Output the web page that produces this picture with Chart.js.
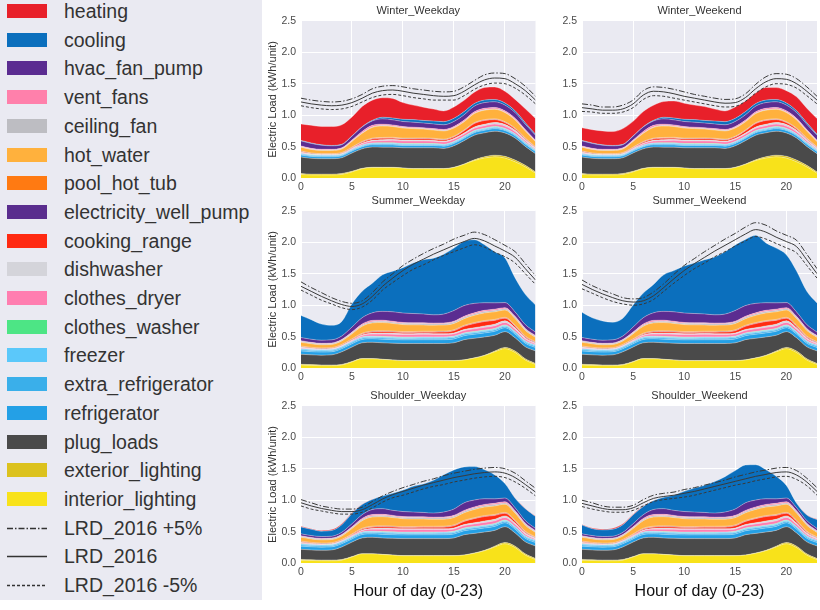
<!DOCTYPE html>
<html><head><meta charset="utf-8">
<script src="https://cdn.jsdelivr.net/npm/chart.js@4.4.1/dist/chart.umd.min.js"></script>
<style>
html,body{margin:0;padding:0;background:#fff;width:820px;height:610px;overflow:hidden;}
#legend{position:absolute;left:0;top:0;width:262px;height:600px;background:#EAEAF2;}
.item{position:absolute;left:0;height:20px;width:262px;}
.sw{position:absolute;left:7px;top:3px;width:40px;height:14px;}
.lsw{position:absolute;left:7px;top:0;width:40px;height:20px;}
.lbl{position:absolute;left:64px;top:0;font:19.5px "Liberation Sans",Arial,sans-serif;line-height:20px;color:#333;white-space:nowrap;}
canvas{position:absolute;}
</style></head><body>
<div id="legend"></div>
<canvas id="c1" width="278" height="195" style="left:262px;top:0px"></canvas>
<canvas id="c2" width="265" height="195" style="left:555px;top:0px"></canvas>
<canvas id="c3" width="278" height="195" style="left:262px;top:190px"></canvas>
<canvas id="c4" width="265" height="195" style="left:555px;top:190px"></canvas>
<canvas id="c5" width="278" height="220" style="left:262px;top:385px"></canvas>
<canvas id="c6" width="265" height="220" style="left:555px;top:385px"></canvas>
<script>
// ---------------- DATA ----------------
const hours = [0,1,2,3,4,5,6,7,8,9,10,11,12,13,14,15,16,17,18,19,20,21,22,23];

// Winter end uses (shared by weekday / weekend)
const winter_interior_lighting = [0.06,0.05,0.05,0.05,0.06,0.10, 0.15,0.17,0.17,0.17,0.16,0.15, 0.15,0.15,0.15,0.17,0.22,0.28, 0.32,0.34,0.32,0.26,0.18,0.08];
const winter_exterior_lighting = [0.015,0.015,0.015,0.015,0.015,0.010, 0.006,0.004,0.003,0.003,0.003,0.003, 0.003,0.003,0.003,0.004,0.006,0.012, 0.020,0.025,0.028,0.028,0.025,0.020];
const winter_plug_loads = [0.26,0.25,0.245,0.245,0.25,0.29, 0.31,0.32,0.32,0.32,0.32,0.33, 0.33,0.33,0.32,0.34,0.37,0.39, 0.38,0.38,0.37,0.35,0.30,0.29];
const winter_refrigerator = [0.032,0.031,0.030,0.030,0.030,0.031, 0.033,0.035,0.035,0.035,0.035,0.036, 0.036,0.036,0.036,0.037,0.038,0.040, 0.040,0.040,0.039,0.037,0.035,0.033];
const winter_extra_refrigerator = [0.012,0.012,0.011,0.011,0.011,0.012, 0.012,0.013,0.013,0.013,0.013,0.013, 0.013,0.013,0.013,0.014,0.014,0.014, 0.014,0.014,0.014,0.013,0.013,0.012];
const winter_freezer = [0.012,0.012,0.012,0.012,0.012,0.012, 0.012,0.012,0.012,0.012,0.012,0.012, 0.012,0.012,0.012,0.012,0.012,0.013, 0.013,0.013,0.013,0.013,0.012,0.012];
const winter_clothes_washer = [0.002,0.001,0.001,0.001,0.001,0.002, 0.004,0.006,0.008,0.008,0.008,0.007, 0.007,0.006,0.006,0.006,0.006,0.007, 0.007,0.007,0.006,0.005,0.004,0.003];
const winter_clothes_dryer = [0.010,0.006,0.005,0.005,0.006,0.010, 0.020,0.030,0.035,0.040,0.040,0.040, 0.040,0.038,0.036,0.035,0.036,0.038, 0.040,0.040,0.038,0.033,0.025,0.015];
const winter_dishwasher = [0.010,0.006,0.004,0.004,0.004,0.005, 0.008,0.012,0.015,0.015,0.013,0.012, 0.012,0.012,0.012,0.013,0.015,0.018, 0.022,0.025,0.025,0.022,0.018,0.013];
const winter_cooking_range = [0.005,0.004,0.004,0.004,0.005,0.008, 0.014,0.020,0.022,0.020,0.018,0.020, 0.022,0.020,0.018,0.022,0.035,0.055, 0.060,0.045,0.030,0.020,0.012,0.008];
const winter_electricity_well_pump = [0.004,0.004,0.004,0.004,0.004,0.004, 0.004,0.004,0.004,0.004,0.004,0.004, 0.004,0.004,0.004,0.004,0.004,0.004, 0.004,0.004,0.004,0.004,0.004,0.004];
const winter_pool_hot_tub = [0.010,0.010,0.010,0.010,0.010,0.010, 0.010,0.010,0.010,0.010,0.010,0.010, 0.010,0.010,0.010,0.010,0.010,0.010, 0.010,0.010,0.010,0.010,0.010,0.010];
const winter_hot_water = [0.06,0.055,0.05,0.05,0.055,0.09, 0.13,0.17,0.18,0.17,0.16,0.15, 0.14,0.13,0.13,0.13,0.13,0.145, 0.15,0.15,0.145,0.13,0.11,0.08];
const winter_ceiling_fan = [0.008,0.008,0.008,0.008,0.008,0.008, 0.008,0.008,0.008,0.008,0.008,0.008, 0.008,0.008,0.008,0.008,0.008,0.008, 0.008,0.008,0.008,0.008,0.008,0.008];
const winter_vent_fans = [0.012,0.010,0.010,0.010,0.011,0.015, 0.022,0.025,0.022,0.018,0.016,0.015, 0.015,0.015,0.015,0.016,0.018,0.020, 0.022,0.022,0.020,0.018,0.016,0.014];
const winter_hvac_fan_pump = [0.08,0.078,0.065,0.055,0.05,0.06, 0.07,0.07,0.085,0.08,0.08,0.08, 0.075,0.075,0.075,0.08,0.085,0.09, 0.09,0.09,0.09,0.09,0.085,0.08];
const winter_cooling = [0.008,0.008,0.006,0.006,0.005,0.005, 0.005,0.010,0.025,0.030,0.035,0.040, 0.040,0.045,0.050,0.050,0.050,0.040, 0.040,0.035,0.035,0.030,0.025,0.015];
const winter_weekday_heating = [0.26,0.28,0.29,0.30,0.31,0.30, 0.32,0.32,0.31,0.31,0.265,0.23, 0.21,0.19,0.17,0.18,0.18,0.18, 0.20,0.20,0.185,0.18,0.22,0.25];
const winter_weekend_heating = [0.20,0.21,0.22,0.22,0.25,0.23, 0.24,0.24,0.25,0.27,0.255,0.23, 0.22,0.19,0.17,0.18,0.17,0.17, 0.20,0.19,0.195,0.22,0.23,0.25];

// Summer end uses (shared by weekday / weekend; small loads also seen in shoulder)
const summer_interior_lighting = [0.05,0.045,0.04,0.04,0.05,0.10, 0.15,0.15,0.14,0.13,0.12,0.12, 0.12,0.12,0.12,0.12,0.13,0.16, 0.20,0.26,0.31,0.25,0.13,0.06];
const summer_exterior_lighting = [0.012,0.012,0.012,0.012,0.010,0.006, 0.003,0.002,0.002,0.002,0.002,0.002, 0.002,0.002,0.002,0.002,0.003,0.004, 0.006,0.012,0.020,0.022,0.020,0.015];
const summer_plug_loads = [0.16,0.155,0.155,0.16,0.20,0.23, 0.25,0.26,0.26,0.265,0.27,0.27, 0.27,0.27,0.27,0.28,0.32,0.31, 0.29,0.25,0.25,0.21,0.19,0.20];
const summer_refrigerator = [0.050,0.050,0.049,0.049,0.050,0.051, 0.053,0.055,0.056,0.057,0.058,0.059, 0.060,0.060,0.061,0.062,0.063,0.064, 0.064,0.063,0.062,0.059,0.056,0.053];
const summer_extra_refrigerator = [0.019,0.019,0.019,0.019,0.019,0.020, 0.020,0.020,0.021,0.021,0.021,0.021, 0.022,0.022,0.022,0.022,0.022,0.022, 0.022,0.022,0.021,0.021,0.020,0.020];
const summer_freezer = [0.016,0.016,0.016,0.016,0.016,0.016, 0.016,0.016,0.016,0.016,0.016,0.016, 0.016,0.016,0.016,0.016,0.016,0.016, 0.016,0.016,0.016,0.016,0.016,0.016];
const summer_clothes_washer = [0.002,0.001,0.001,0.001,0.001,0.002, 0.004,0.006,0.008,0.008,0.008,0.007, 0.007,0.006,0.006,0.006,0.006,0.007, 0.007,0.007,0.006,0.005,0.004,0.003];
const summer_clothes_dryer = [0.012,0.008,0.006,0.006,0.007,0.012, 0.022,0.032,0.038,0.040,0.040,0.040, 0.040,0.039,0.038,0.038,0.040,0.042, 0.044,0.044,0.042,0.036,0.026,0.016];
const summer_dishwasher = [0.010,0.006,0.004,0.004,0.004,0.005, 0.008,0.012,0.015,0.015,0.013,0.012, 0.012,0.012,0.012,0.013,0.015,0.018, 0.022,0.025,0.025,0.022,0.018,0.013];
const summer_cooking_range = [0.005,0.004,0.004,0.004,0.005,0.008, 0.014,0.020,0.022,0.020,0.018,0.020, 0.022,0.024,0.026,0.035,0.050,0.065, 0.070,0.060,0.040,0.025,0.014,0.008];
const summer_electricity_well_pump = [0.004,0.004,0.004,0.004,0.004,0.004, 0.004,0.004,0.004,0.004,0.004,0.004, 0.004,0.004,0.004,0.004,0.004,0.004, 0.004,0.004,0.004,0.004,0.004,0.004];
const summer_pool_hot_tub = [0.012,0.012,0.012,0.012,0.012,0.012, 0.012,0.012,0.012,0.012,0.012,0.012, 0.012,0.012,0.012,0.012,0.012,0.012, 0.012,0.012,0.012,0.012,0.012,0.012];
const summer_hot_water = [0.06,0.055,0.05,0.05,0.055,0.08, 0.11,0.13,0.13,0.12,0.11,0.105, 0.10,0.095,0.095,0.10,0.105,0.115, 0.12,0.12,0.115,0.105,0.09,0.07];
const summer_ceiling_fan = [0.015,0.015,0.015,0.015,0.015,0.015, 0.018,0.020,0.020,0.020,0.020,0.022, 0.022,0.022,0.022,0.022,0.022,0.022, 0.022,0.022,0.020,0.020,0.018,0.016];
const summer_vent_fans = [0.010,0.008,0.008,0.008,0.009,0.012, 0.018,0.020,0.018,0.015,0.014,0.013, 0.013,0.013,0.013,0.014,0.016,0.018, 0.020,0.020,0.018,0.016,0.014,0.012];
const summer_hvac_fan_pump = [0.05,0.05,0.05,0.05,0.055,0.08, 0.10,0.12,0.14,0.15,0.15,0.145, 0.14,0.13,0.14,0.17,0.17,0.15, 0.12,0.10,0.08,0.07,0.06,0.055];
const summer_heating = [0,0,0,0,0,0, 0,0,0,0,0,0, 0,0,0,0,0,0, 0,0,0,0,0,0];
const summer_weekday_cooling = [0.35,0.31,0.255,0.23,0.23,0.37, 0.42,0.47,0.58,0.645,0.72,0.80, 0.86,0.90,0.95,0.99,1.02,1.01, 0.92,0.81,0.71,0.54,0.48,0.43];
const summer_weekend_cooling = [0.40,0.34,0.305,0.28,0.28,0.35, 0.39,0.45,0.58,0.655,0.745,0.80, 0.86,0.92,0.99,1.04,1.05,1.08, 0.95,0.87,0.76,0.65,0.53,0.46];

// Shoulder-specific end uses
const shoulder_hot_water = [0.06,0.055,0.05,0.05,0.055,0.085, 0.12,0.145,0.145,0.135,0.125,0.12, 0.115,0.11,0.11,0.115,0.12,0.13, 0.135,0.135,0.13,0.115,0.095,0.07];
const shoulder_hvac_fan_pump = [0.03,0.03,0.03,0.03,0.035,0.05, 0.06,0.08,0.09,0.08,0.08,0.075, 0.07,0.065,0.08,0.10,0.12,0.11, 0.09,0.07,0.06,0.05,0.04,0.035];
const shoulder_heating = [0.010,0.010,0.012,0.015,0.015,0.012, 0.005,0.002,0,0,0,0, 0,0,0,0,0,0, 0,0,0,0.002,0.004,0.008];
const shoulder_weekday_cooling = [0.11,0.10,0.085,0.09,0.12,0.16, 0.16,0.16,0.20,0.27,0.34,0.41, 0.45,0.52,0.59,0.62,0.57,0.53, 0.46,0.38,0.23,0.15,0.19,0.19];
const shoulder_weekend_cooling = [0.14,0.11,0.105,0.11,0.12,0.14, 0.13,0.14,0.18,0.24,0.32,0.38, 0.43,0.50,0.56,0.61,0.60,0.56, 0.46,0.36,0.20,0.07,0.09,0.14];

// LRD_2016 reference lines (+5%, base, -5%)
const winter_weekday_lrd = [1.21,1.18,1.16,1.15,1.16,1.20, 1.27,1.35,1.39,1.40,1.38,1.35, 1.33,1.31,1.30,1.31,1.38,1.48, 1.56,1.59,1.58,1.50,1.39,1.24];
const winter_weekday_lrd_plus = [1.27,1.24,1.22,1.21,1.22,1.26, 1.33,1.42,1.46,1.47,1.45,1.42, 1.40,1.38,1.37,1.38,1.45,1.55, 1.64,1.67,1.66,1.58,1.46,1.30];
const winter_weekday_lrd_minus = [1.15,1.12,1.10,1.09,1.10,1.14, 1.21,1.28,1.32,1.33,1.31,1.28, 1.26,1.24,1.24,1.24,1.31,1.41, 1.48,1.51,1.50,1.43,1.32,1.18];
const winter_weekend_lrd = [1.12,1.10,1.08,1.08,1.10,1.18, 1.32,1.38,1.37,1.34,1.30,1.27, 1.24,1.21,1.19,1.20,1.28,1.42, 1.53,1.58,1.57,1.50,1.38,1.24];
const winter_weekend_lrd_plus = [1.18,1.16,1.13,1.13,1.16,1.24, 1.39,1.45,1.44,1.41,1.37,1.33, 1.30,1.27,1.25,1.26,1.34,1.49, 1.61,1.66,1.65,1.58,1.45,1.30];
const winter_weekend_lrd_minus = [1.06,1.05,1.03,1.03,1.05,1.12, 1.25,1.31,1.30,1.27,1.24,1.21, 1.18,1.15,1.13,1.14,1.22,1.35, 1.45,1.50,1.49,1.43,1.31,1.18];
const summer_weekday_lrd = [1.30,1.22,1.14,1.07,1.01,0.98, 1.02,1.14,1.30,1.43,1.55,1.65, 1.73,1.81,1.88,1.95,2.01,2.06, 2.02,1.94,1.86,1.76,1.58,1.40];
const summer_weekday_lrd_plus = [1.37,1.28,1.20,1.12,1.06,1.03, 1.07,1.20,1.37,1.50,1.63,1.73, 1.82,1.90,1.97,2.05,2.11,2.16, 2.12,2.04,1.95,1.85,1.66,1.47];
const summer_weekday_lrd_minus = [1.24,1.16,1.08,1.02,0.96,0.93, 0.97,1.08,1.24,1.36,1.47,1.57, 1.64,1.72,1.79,1.85,1.91,1.96, 1.92,1.84,1.77,1.67,1.50,1.33];
const summer_weekend_lrd = [1.33,1.25,1.18,1.12,1.07,1.05, 1.07,1.15,1.28,1.42,1.55,1.66, 1.76,1.86,1.95,2.04,2.13,2.20, 2.16,2.08,2.01,1.93,1.72,1.50];
const summer_weekend_lrd_plus = [1.40,1.31,1.24,1.18,1.12,1.10, 1.12,1.21,1.34,1.49,1.63,1.74, 1.85,1.95,2.05,2.14,2.24,2.31, 2.27,2.18,2.11,2.03,1.81,1.58];
const summer_weekend_lrd_minus = [1.26,1.19,1.12,1.06,1.02,1.00, 1.02,1.09,1.22,1.35,1.47,1.58, 1.67,1.77,1.85,1.94,2.02,2.09, 2.05,1.98,1.91,1.83,1.63,1.43];
const shoulder_weekday_lrd = [0.96,0.91,0.87,0.84,0.82,0.82, 0.85,0.93,1.02,1.09,1.14,1.19, 1.24,1.28,1.32,1.36,1.39,1.42, 1.44,1.45,1.43,1.36,1.25,1.13];
const shoulder_weekday_lrd_plus = [1.01,0.96,0.91,0.88,0.86,0.86, 0.89,0.98,1.07,1.14,1.20,1.25, 1.30,1.34,1.39,1.43,1.46,1.49, 1.51,1.52,1.50,1.43,1.31,1.19];
const shoulder_weekday_lrd_minus = [0.91,0.86,0.83,0.80,0.78,0.78, 0.81,0.88,0.97,1.04,1.08,1.13, 1.18,1.22,1.25,1.29,1.32,1.35, 1.37,1.38,1.36,1.29,1.19,1.07];
const shoulder_weekend_lrd = [0.95,0.91,0.87,0.85,0.85,0.88, 0.96,1.03,1.06,1.08,1.11,1.14, 1.18,1.22,1.26,1.30,1.34,1.38, 1.41,1.44,1.45,1.40,1.29,1.14];
const shoulder_weekend_lrd_plus = [1.00,0.96,0.91,0.89,0.89,0.92, 1.01,1.08,1.11,1.13,1.17,1.20, 1.24,1.28,1.32,1.37,1.41,1.45, 1.48,1.51,1.52,1.47,1.35,1.20];
const shoulder_weekend_lrd_minus = [0.90,0.86,0.83,0.81,0.81,0.84, 0.91,0.98,1.01,1.03,1.05,1.08, 1.12,1.16,1.20,1.24,1.27,1.31, 1.34,1.37,1.38,1.33,1.23,1.08];

const yTicks = [0.0,0.5,1.0,1.5,2.0,2.5];
const xTicks = [0,5,10,15,20];

// stacking order bottom -> top
const seriesNames = ['interior_lighting','exterior_lighting','plug_loads','refrigerator','extra_refrigerator','freezer','clothes_washer','clothes_dryer','dishwasher','cooking_range','electricity_well_pump','pool_hot_tub','hot_water','ceiling_fan','vent_fans','hvac_fan_pump','cooling','heating'];
const lineNames = ['LRD_2016 +5%','LRD_2016','LRD_2016 -5%'];

// ---------------- STYLES ----------------
const seriesColors = {
  heating:'#E8202A', cooling:'#0B6FBD', hvac_fan_pump:'#5B2C91', vent_fans:'#FF80AB',
  ceiling_fan:'#BDBDC2', hot_water:'#FFB13D', pool_hot_tub:'#FF7A12', electricity_well_pump:'#5A2D8E',
  cooking_range:'#FF2A12', dishwasher:'#D4D4DA', clothes_dryer:'#FF7EB0', clothes_washer:'#4DE585',
  freezer:'#5BC8FA', extra_refrigerator:'#3AAFEA', refrigerator:'#24A0E6', plug_loads:'#4A4A4A',
  exterior_lighting:'#DCC21E', interior_lighting:'#F8E21A'
};
const lineDash = {'LRD_2016 +5%':[6,2,1.5,2], 'LRD_2016':[], 'LRD_2016 -5%':[3,2]};
const FONT = '"Liberation Sans", Arial, sans-serif';

function seasonSeries(season, heating, cooling) {
  const s = season === 'winter' ? {
    interior_lighting: winter_interior_lighting, exterior_lighting: winter_exterior_lighting, plug_loads: winter_plug_loads,
    refrigerator: winter_refrigerator, extra_refrigerator: winter_extra_refrigerator, freezer: winter_freezer,
    clothes_washer: winter_clothes_washer, clothes_dryer: winter_clothes_dryer, dishwasher: winter_dishwasher,
    cooking_range: winter_cooking_range, electricity_well_pump: winter_electricity_well_pump, pool_hot_tub: winter_pool_hot_tub,
    hot_water: winter_hot_water, ceiling_fan: winter_ceiling_fan, vent_fans: winter_vent_fans, hvac_fan_pump: winter_hvac_fan_pump
  } : {
    interior_lighting: summer_interior_lighting, exterior_lighting: summer_exterior_lighting, plug_loads: summer_plug_loads,
    refrigerator: summer_refrigerator, extra_refrigerator: summer_extra_refrigerator, freezer: summer_freezer,
    clothes_washer: summer_clothes_washer, clothes_dryer: summer_clothes_dryer, dishwasher: summer_dishwasher,
    cooking_range: summer_cooking_range, electricity_well_pump: summer_electricity_well_pump, pool_hot_tub: summer_pool_hot_tub,
    hot_water: season === 'shoulder' ? shoulder_hot_water : summer_hot_water,
    ceiling_fan: summer_ceiling_fan, vent_fans: summer_vent_fans,
    hvac_fan_pump: season === 'shoulder' ? shoulder_hvac_fan_pump : summer_hvac_fan_pump
  };
  s.cooling = cooling; s.heating = heating;
  return s;
}

const panels = [
  {id:'c1', title:'Winter_Weekday', series: seasonSeries('winter', winter_weekday_heating, winter_cooling), lines:[winter_weekday_lrd_plus, winter_weekday_lrd, winter_weekday_lrd_minus], left:true, bottom:false},
  {id:'c2', title:'Winter_Weekend', series: seasonSeries('winter', winter_weekend_heating, winter_cooling), lines:[winter_weekend_lrd_plus, winter_weekend_lrd, winter_weekend_lrd_minus], left:false, bottom:false},
  {id:'c3', title:'Summer_Weekday', series: seasonSeries('summer', summer_heating, summer_weekday_cooling), lines:[summer_weekday_lrd_plus, summer_weekday_lrd, summer_weekday_lrd_minus], left:true, bottom:false},
  {id:'c4', title:'Summer_Weekend', series: seasonSeries('summer', summer_heating, summer_weekend_cooling), lines:[summer_weekend_lrd_plus, summer_weekend_lrd, summer_weekend_lrd_minus], left:false, bottom:false},
  {id:'c5', title:'Shoulder_Weekday', series: seasonSeries('shoulder', shoulder_heating, shoulder_weekday_cooling), lines:[shoulder_weekday_lrd_plus, shoulder_weekday_lrd, shoulder_weekday_lrd_minus], left:true, bottom:true},
  {id:'c6', title:'Shoulder_Weekend', series: seasonSeries('shoulder', shoulder_heating, shoulder_weekend_cooling), lines:[shoulder_weekend_lrd_plus, shoulder_weekend_lrd, shoulder_weekend_lrd_minus], left:false, bottom:true}
];

const bgPlugin = {
  id:'bg',
  beforeDraw(chart){
    const {ctx, chartArea:a} = chart;
    ctx.save(); ctx.fillStyle = '#EAEAF2';
    ctx.fillRect(a.left, a.top, a.right - a.left, a.bottom - a.top);
    ctx.restore();
  }
};

function pts(arr){ return hours.map((h,i)=>({x:h, y:arr[i]})); }

panels.forEach(p => {
  const datasets = seriesNames.map((n,i) => ({
    label:n, data: pts(p.series[n]), stack:'loads',
    backgroundColor: seriesColors[n], borderColor:'rgba(255,255,255,0.55)', borderWidth:0.6,
    fill: i === 0 ? 'origin' : '-1', pointRadius:0, cubicInterpolationMode:'monotone'
  }));
  lineNames.forEach((n,k) => {
    datasets.push({
      label:n, data: pts(p.lines[k]), stack:'lrd'+k, fill:false, order:-1,
      borderColor:'#3a3a3a', borderWidth:1, borderDash: lineDash[n], pointRadius:0,
      cubicInterpolationMode:'monotone'
    });
  });
  const yW = p.left ? 39 : 27;
  const padR = p.left ? 4.5 : 3;
  const xH = p.bottom ? 41.7 : 16.8;
  new Chart(document.getElementById(p.id), {
    type:'line',
    data:{datasets},
    options:{
      responsive:false, animation:false, devicePixelRatio:1,
      layout:{padding:{left:0, right:padR, top:0, bottom:0}},
      plugins:{
        legend:{display:false}, tooltip:{enabled:false},
        title:{display:true, text:p.title, fullSize:false, color:'#333', font:{family:FONT, size:11, weight:'normal'}, padding:{top:4.5, bottom:3}}
      },
      scales:{
        x:{type:'linear', min:0, max:23,
           afterBuildTicks(s){ s.ticks = xTicks.map(v=>({value:v})); },
           ticks:{color:'#4a4a4a', font:{family:FONT, size:10.5}, padding:3, maxRotation:0, autoSkip:false},
           grid:{color:'#ffffff', lineWidth:1, drawTicks:false}, border:{display:false},
           title:{display:p.bottom, text:'Hour of day (0-23)', color:'#111', font:{family:FONT, size:16}, padding:{top:0, bottom:4}},
           afterFit(s){ s.height = xH; }},
        y:{stacked:true, min:0, max:2.5,
           afterBuildTicks(s){ s.ticks = yTicks.map(v=>({value:v})); },
           ticks:{color:'#4a4a4a', font:{family:FONT, size:10.5}, padding:5, callback:v=>Number(v).toFixed(1)},
           grid:{color:'#ffffff', lineWidth:1, drawTicks:false}, border:{display:false},
           title:{display:p.left, text:'Electric Load (kWh/unit)', color:'#333', font:{family:FONT, size:11}, padding:{top:4, bottom:0}},
           afterFit(s){ s.width = yW; }}
      }
    },
    plugins:[bgPlugin]
  });
});

// ---------------- LEGEND (HTML text) ----------------
const legend = document.getElementById('legend');
const legendEntries = seriesNames.slice().reverse().map(n=>({name:n, type:'area'}))
  .concat(lineNames.map(n=>({name:n, type:'line'})));
legendEntries.forEach((e,i) => {
  const item = document.createElement('div');
  item.className = 'item';
  item.style.top = (1 + i*28.7) + 'px';
  if (e.type === 'area') {
    const sw = document.createElement('span');
    sw.className = 'sw'; sw.style.background = seriesColors[e.name];
    item.appendChild(sw);
  } else {
    const ns = 'http://www.w3.org/2000/svg';
    const svg = document.createElementNS(ns,'svg');
    svg.setAttribute('class','lsw'); svg.setAttribute('width','40'); svg.setAttribute('height','20');
    const ln = document.createElementNS(ns,'line');
    ln.setAttribute('x1','0'); ln.setAttribute('x2','40'); ln.setAttribute('y1','10.5'); ln.setAttribute('y2','10.5');
    ln.setAttribute('stroke','#333'); ln.setAttribute('stroke-width','1.3');
    if (lineDash[e.name].length) ln.setAttribute('stroke-dasharray', lineDash[e.name].join(' '));
    svg.appendChild(ln); item.appendChild(svg);
  }
  const lbl = document.createElement('span');
  lbl.className = 'lbl'; lbl.textContent = e.name;
  item.appendChild(lbl);
  legend.appendChild(item);
});
</script>
</body></html>
